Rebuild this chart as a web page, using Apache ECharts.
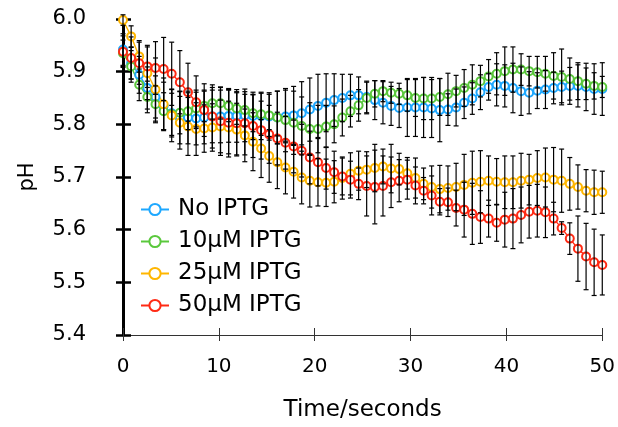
<!DOCTYPE html>
<html><head><meta charset="utf-8">
<script src="https://cdn.jsdelivr.net/npm/echarts@6/dist/echarts.min.js"></script>
<style>html,body{margin:0;padding:0;background:#fff}#c{width:618px;height:427px}</style>
</head><body><div id="c"></div>
<script>
// Time points (seconds)
const times = [0,0.85,1.69,2.54,3.39,4.24,5.08,5.93,6.78,7.63,8.47,9.32,10.17,11.02,11.86,12.71,13.56,14.41,15.25,16.10,16.95,17.80,18.64,19.49,20.34,21.19,22.03,22.88,23.73,24.58,25.42,26.27,27.12,27.97,28.81,29.66,30.51,31.36,32.20,33.05,33.90,34.75,35.59,36.44,37.29,38.14,38.98,39.83,40.68,41.53,42.37,43.22,44.07,44.92,45.76,46.61,47.46,48.31,49.15,50.00];
const seriesNames = ['No IPTG','10\u03bcM IPTG','25\u03bcM IPTG','50\u03bcM IPTG'];
const noIPTG = [5.942,5.916,5.894,5.869,5.852,5.835,5.821,5.813,5.813,5.811,5.813,5.815,5.815,5.816,5.816,5.817,5.816,5.816,5.815,5.813,5.815,5.817,5.821,5.828,5.835,5.841,5.846,5.850,5.855,5.855,5.852,5.846,5.841,5.835,5.831,5.832,5.832,5.832,5.830,5.827,5.828,5.832,5.841,5.849,5.861,5.871,5.875,5.873,5.869,5.863,5.860,5.864,5.866,5.869,5.871,5.873,5.873,5.871,5.867,5.867];
const iptg10 = [5.935,5.910,5.875,5.852,5.838,5.825,5.819,5.822,5.825,5.830,5.835,5.840,5.840,5.835,5.830,5.827,5.821,5.819,5.817,5.813,5.808,5.803,5.797,5.791,5.791,5.796,5.800,5.813,5.825,5.836,5.850,5.858,5.863,5.860,5.858,5.855,5.850,5.849,5.849,5.852,5.857,5.863,5.869,5.875,5.882,5.891,5.896,5.901,5.904,5.904,5.901,5.899,5.896,5.892,5.890,5.886,5.882,5.877,5.873,5.871];
const iptg25 = [5.998,5.967,5.929,5.897,5.866,5.838,5.817,5.803,5.796,5.791,5.792,5.794,5.796,5.794,5.790,5.779,5.767,5.754,5.740,5.728,5.718,5.710,5.699,5.693,5.690,5.689,5.691,5.698,5.706,5.712,5.714,5.717,5.720,5.716,5.715,5.707,5.698,5.687,5.681,5.677,5.679,5.681,5.685,5.689,5.691,5.693,5.691,5.690,5.690,5.693,5.695,5.698,5.699,5.695,5.693,5.687,5.681,5.674,5.671,5.671];
const iptg50 = [5.938,5.926,5.916,5.910,5.907,5.905,5.896,5.880,5.861,5.842,5.827,5.815,5.806,5.803,5.802,5.802,5.797,5.789,5.781,5.773,5.765,5.758,5.750,5.737,5.728,5.717,5.709,5.701,5.695,5.687,5.683,5.681,5.683,5.690,5.693,5.695,5.684,5.674,5.665,5.653,5.652,5.641,5.638,5.630,5.624,5.621,5.613,5.619,5.621,5.628,5.634,5.636,5.633,5.621,5.603,5.583,5.564,5.549,5.538,5.533];
// Standard errors (half-heights of the error bars)
const errNo = [0.03,0.03,0.035,0.04,0.04,0.045,0.045,0.05,0.05,0.05,0.05,0.05,0.05,0.05,0.05,0.05,0.045,0.045,0.045,0.05,0.05,0.055,0.06,0.06,0.06,0.055,0.05,0.045,0.04,0.035,0.03,0.037,0.04,0.037,0.037,0.055,0.055,0.057,0.055,0.06,0.03,0.035,0.03,0.03,0.033,0.025,0.04,0.04,0.047,0.046,0.04,0.034,0.036,0.03,0.03,0.035,0.04,0.045,0.048,0.05];
const err10 = [0.025,0.03,0.03,0.03,0.035,0.035,0.04,0.04,0.035,0.035,0.03,0.03,0.03,0.03,0.03,0.03,0.035,0.04,0.04,0.05,0.06,0.06,0.055,0.05,0.045,0.04,0.035,0.035,0.03,0.03,0.03,0.025,0.02,0.02,0.02,0.03,0.035,0.04,0.04,0.035,0.04,0.03,0.035,0.038,0.03,0.032,0.04,0.046,0.043,0.03,0.028,0.03,0.033,0.044,0.053,0.04,0.035,0.03,0.025,0.02];
const err25 = [0.01,0.02,0.03,0.05,0.06,0.05,0.05,0.05,0.055,0.05,0.045,0.045,0.05,0.05,0.05,0.05,0.055,0.055,0.05,0.05,0.05,0.05,0.05,0.05,0.045,0.045,0.04,0.04,0.04,0.037,0.034,0.045,0.033,0.046,0.03,0.03,0.038,0.03,0.04,0.045,0.042,0.045,0.058,0.06,0.059,0.047,0.044,0.05,0.05,0.052,0.048,0.052,0.056,0.061,0.06,0.05,0.042,0.04,0.042,0.04];
const err50 = [0.03,0.04,0.04,0.04,0.05,0.06,0.06,0.06,0.055,0.05,0.05,0.06,0.065,0.065,0.06,0.06,0.06,0.055,0.055,0.05,0.05,0.05,0.05,0.05,0.045,0.04,0.04,0.035,0.035,0.03,0.057,0.07,0.057,0.048,0.04,0.037,0.035,0.025,0.037,0.025,0.027,0.034,0.052,0.058,0.05,0.035,0.035,0.052,0.057,0.053,0.05,0.05,0.048,0.031,0.012,0.03,0.062,0.063,0.063,0.057];
const xTicks = [0,10,20,30,40,50];
const yTicks = [5.4,5.5,5.6,5.7,5.8,5.9,6.0];

const colors = ['#1ea8ff','#5ac83c','#ffb600','#ff2a14'];
const values = [noIPTG, iptg10, iptg25, iptg50];
const errs = [errNo, err10, err25, err50];
const FONT = '"DejaVu Sans", Arial, sans-serif';

const chart = echarts.init(document.getElementById('c'), null, {renderer:'canvas'});

const lineSeries = values.map((vals, k) => ({
  name: seriesNames[k], type: 'line', xAxisIndex: 0, yAxisIndex: 0,
  data: vals.map((v, i) => [times[i], v]),
  symbol: 'emptyCircle', symbolSize: 8, showSymbol: true,
  itemStyle: {color: colors[k], borderWidth: 1},
  lineStyle: {width: 1.4, color: colors[k]},
  emphasis: {disabled: true}, animation: false, z: 2
}));

const errSeries = values.map((vals, k) => ({
  type: 'custom', xAxisIndex: 0, yAxisIndex: 0, z: 5, animation: false, silent: true,
  data: vals.map((v, i) => [times[i], v - errs[k][i], v + errs[k][i]]),
  renderItem: function (params, api) {
    const lo = api.coord([api.value(0), api.value(1)]);
    const hi = api.coord([api.value(0), api.value(2)]);
    const w = 2.5;
    const st = {stroke: '#000', lineWidth: 1.2};
    return {type: 'group', children: [
      {type: 'line', shape: {x1: lo[0], y1: lo[1], x2: hi[0], y2: hi[1]}, style: st},
      {type: 'line', shape: {x1: lo[0]-w, y1: lo[1], x2: lo[0]+w, y2: lo[1]}, style: st},
      {type: 'line', shape: {x1: hi[0]-w, y1: hi[1], x2: hi[0]+w, y2: hi[1]}, style: st}
    ]};
  }
}));

const axisCommonX = {type: 'value', min: 0, max: 50, interval: 10, position: 'bottom', splitLine: {show: false}};
const axisCommonY = {type: 'value', min: 5.4, max: 6.0, interval: 0.1, position: 'left', splitLine: {show: false}};

chart.setOption({
  animation: false,
  backgroundColor: '#fff',
  textStyle: {fontFamily: FONT},
  grid: {left: 123, right: 15, top: 19, bottom: 90, containLabel: false},
  legend: {
    data: seriesNames, orient: 'vertical', left: 135, top: 193,
    itemWidth: 28, itemHeight: 14, itemGap: 9,
    textStyle: {fontFamily: FONT, fontSize: 23, color: '#000', padding: [0,0,0,4]},
    selectedMode: false
  },
  xAxis: [
    Object.assign({}, axisCommonX, {
      name: 'Time/seconds', nameLocation: 'middle', nameGap: 64,
      nameTextStyle: {fontFamily: FONT, fontSize: 23, color: '#000'},
      axisLine: {show: true, lineStyle: {color: '#333', width: 1}},
      axisTick: {show: true, inside: true, length: 7, lineStyle: {color: '#333', width: 1}},
      axisLabel: {show: true, margin: 22, fontFamily: FONT, fontSize: 20, color: '#000',
        formatter: v => xTicks.includes(v) ? String(v) : ''}
    }),
    Object.assign({}, axisCommonX, {
      axisLine: {show: false}, axisLabel: {show: false},
      axisTick: {show: true, inside: false, length: 6, lineStyle: {color: '#333', width: 1}}
    })
  ],
  yAxis: [
    Object.assign({}, axisCommonY, {
      name: 'pH', nameLocation: 'middle', nameGap: 85, nameRotate: 90,
      nameTextStyle: {fontFamily: FONT, fontSize: 21, color: '#000'},
      axisLine: {show: true, lineStyle: {color: '#000', width: 3}},
      axisTick: {show: true, inside: true, length: 8, lineStyle: {color: '#000', width: 2.5}},
      axisLabel: {show: true, margin: 10, padding: [0, 27, 0, 0], fontFamily: FONT, fontSize: 21, color: '#000',
        formatter: v => { const t = yTicks.find(y => Math.abs(y - v) < 1e-6); return t === undefined ? '' : t.toFixed(1); }}
    }),
    Object.assign({}, axisCommonY, {
      axisLine: {show: false}, axisLabel: {show: false},
      axisTick: {show: true, inside: false, length: 7, lineStyle: {color: '#000', width: 2.5}}
    })
  ],
  series: lineSeries.concat(errSeries)
});
</script></body></html>
